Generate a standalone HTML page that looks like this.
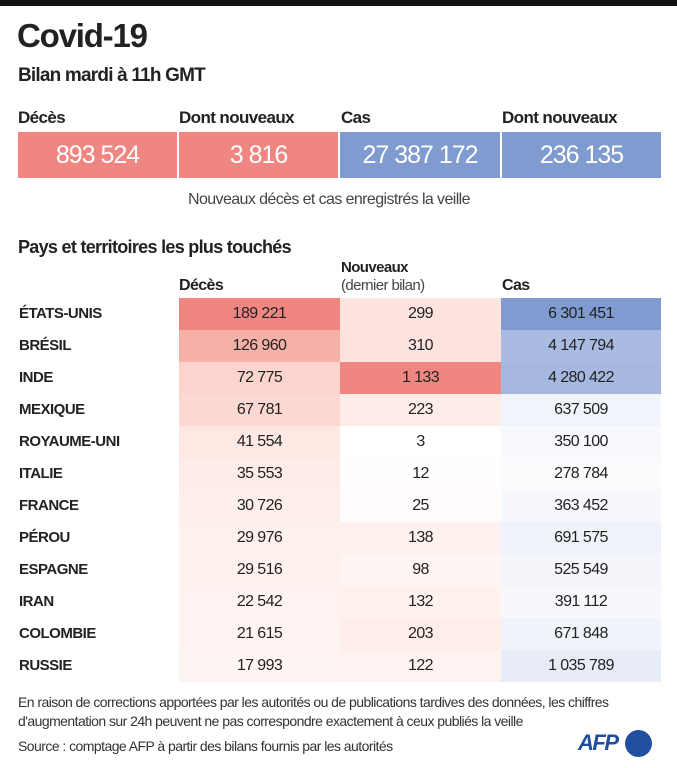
<!DOCTYPE html>
<html><head><meta charset="utf-8"><style>
*{margin:0;padding:0;box-sizing:border-box}
body{width:677px;height:768px;background:#fff;position:relative;overflow:hidden;font-family:"Liberation Sans Narrow","Liberation Sans",sans-serif;color:#222}
.a{position:absolute;white-space:nowrap}
.box{position:absolute;top:132px;height:46px;color:#fff;font-size:25px;text-align:center;line-height:46px;letter-spacing:-1px}
.hl{position:absolute;top:108px;font-size:17px;font-weight:bold;letter-spacing:-.6px}
.row{position:absolute;left:0;width:677px;height:32px}
.row .c{position:absolute;top:0;height:32px;line-height:32px;text-align:center;font-size:16px;letter-spacing:-.6px;color:#222}
.row .nm{position:absolute;left:19px;line-height:32px;font-size:15px;font-weight:bold;letter-spacing:-.5px}
</style></head><body>
<div class="a" style="left:0;top:0;width:677px;height:6px;background:#111"></div>
<div class="a" style="left:17px;top:17px;font-size:33px;font-weight:bold;letter-spacing:-1.2px">Covid-19</div>
<div class="a" style="left:18px;top:65px;font-size:19px;letter-spacing:-.8px;font-weight:bold;color:#222">Bilan mardi à 11h GMT</div>
<div class="hl" style="left:18px">Décès</div>
<div class="hl" style="left:179px">Dont nouveaux</div>
<div class="hl" style="left:341px">Cas</div>
<div class="hl" style="left:502px">Dont nouveaux</div>
<div class="box" style="left:18px;width:159px;background:#f08682">893 524</div>
<div class="box" style="left:179px;width:159px;background:#f08682">3 816</div>
<div class="box" style="left:340px;width:160px;background:#7f9bcf">27 387 172</div>
<div class="box" style="left:502px;width:159px;background:#7f9bcf">236 135</div>
<div class="a" style="left:188px;top:191px;font-size:16px;color:#444;letter-spacing:-.6px">Nouveaux décès et cas enregistrés la veille</div>
<div class="a" style="left:18px;top:237px;font-size:18px;font-weight:bold;letter-spacing:-.7px">Pays et territoires les plus touchés</div>
<div class="a" style="left:341px;top:259px;font-size:15px;font-weight:bold;letter-spacing:-.6px">Nouveaux</div>
<div class="a" style="left:341px;top:277px;font-size:15px;color:#444;letter-spacing:-.6px">(dernier bilan)</div>
<div class="a" style="left:179px;top:277px;font-size:16px;font-weight:bold;letter-spacing:-.6px">Décès</div>
<div class="a" style="left:502px;top:277px;font-size:16px;font-weight:bold;letter-spacing:-.6px">Cas</div>

<div class="row" style="top:298px"><div class="nm">ÉTATS-UNIS</div><div class="c" style="left:179px;width:161px;background:#f08682">189 221</div><div class="c" style="left:340px;width:161px;background:#fde4df">299</div><div class="c" style="left:501px;width:160px;background:#7f9bcf">6 301 451</div></div>
<div class="row" style="top:330px"><div class="nm">BRÉSIL</div><div class="c" style="left:179px;width:161px;background:#f5b0a8">126 960</div><div class="c" style="left:340px;width:161px;background:#fde3de">310</div><div class="c" style="left:501px;width:160px;background:#a9bbe0">4 147 794</div></div>
<div class="row" style="top:362px"><div class="nm">INDE</div><div class="c" style="left:179px;width:161px;background:#fad4cd">72 775</div><div class="c" style="left:340px;width:161px;background:#f08682">1 133</div><div class="c" style="left:501px;width:160px;background:#a6b8df">4 280 422</div></div>
<div class="row" style="top:394px"><div class="nm">MEXIQUE</div><div class="c" style="left:179px;width:161px;background:#fbd9d2">67 781</div><div class="c" style="left:340px;width:161px;background:#feece8">223</div><div class="c" style="left:501px;width:160px;background:#f1f4fa">637 509</div></div>
<div class="row" style="top:426px"><div class="nm">ROYAUME-UNI</div><div class="c" style="left:179px;width:161px;background:#fde8e3">41 554</div><div class="c" style="left:340px;width:161px;background:#fff">3</div><div class="c" style="left:501px;width:160px;background:#f8f9fc">350 100</div></div>
<div class="row" style="top:458px"><div class="nm">ITALIE</div><div class="c" style="left:179px;width:161px;background:#fdece8">35 553</div><div class="c" style="left:340px;width:161px;background:#fffefe">12</div><div class="c" style="left:501px;width:160px;background:#fafbfd">278 784</div></div>
<div class="row" style="top:490px"><div class="nm">FRANCE</div><div class="c" style="left:179px;width:161px;background:#feefeb">30 726</div><div class="c" style="left:340px;width:161px;background:#fffcfb">25</div><div class="c" style="left:501px;width:160px;background:#f7f8fc">363 452</div></div>
<div class="row" style="top:522px"><div class="nm">PÉROU</div><div class="c" style="left:179px;width:161px;background:#fef0ec">29 976</div><div class="c" style="left:340px;width:161px;background:#fef1ee">138</div><div class="c" style="left:501px;width:160px;background:#eff2f9">691 575</div></div>
<div class="row" style="top:554px"><div class="nm">ESPAGNE</div><div class="c" style="left:179px;width:161px;background:#fef0ec">29 516</div><div class="c" style="left:340px;width:161px;background:#fff5f2">98</div><div class="c" style="left:501px;width:160px;background:#f3f5fa">525 549</div></div>
<div class="row" style="top:586px"><div class="nm">IRAN</div><div class="c" style="left:179px;width:161px;background:#fef3f0">22 542</div><div class="c" style="left:340px;width:161px;background:#fef2ef">132</div><div class="c" style="left:501px;width:160px;background:#f6f8fc">391 112</div></div>
<div class="row" style="top:618px"><div class="nm">COLOMBIE</div><div class="c" style="left:179px;width:161px;background:#fef3f0">21 615</div><div class="c" style="left:340px;width:161px;background:#feede9">203</div><div class="c" style="left:501px;width:160px;background:#f0f3f9">671 848</div></div>
<div class="row" style="top:650px"><div class="nm">RUSSIE</div><div class="c" style="left:179px;width:161px;background:#fef5f2">17 993</div><div class="c" style="left:340px;width:161px;background:#fef3f0">122</div><div class="c" style="left:501px;width:160px;background:#e8ecf6">1 035 789</div></div>

<div class="a" style="left:18px;top:693px;font-size:14px;color:#333;letter-spacing:-.55px;line-height:19px">En raison de corrections apportées par les autorités ou de publications tardives des données, les chiffres<br>d'augmentation sur 24h peuvent ne pas correspondre exactement à ceux publiés la veille</div>
<div class="a" style="left:18px;top:738px;font-size:14px;color:#333;letter-spacing:-.55px">Source : comptage AFP à partir des bilans fournis par les autorités</div>
<div class="a" style="left:578px;top:730px;font-size:22px;font-weight:bold;font-style:italic;color:#1f4f9e;letter-spacing:-1.5px">AFP</div>
<div class="a" style="left:625px;top:730px;width:27px;height:27px;border-radius:50%;background:#1f4f9e"></div>
</body></html>
